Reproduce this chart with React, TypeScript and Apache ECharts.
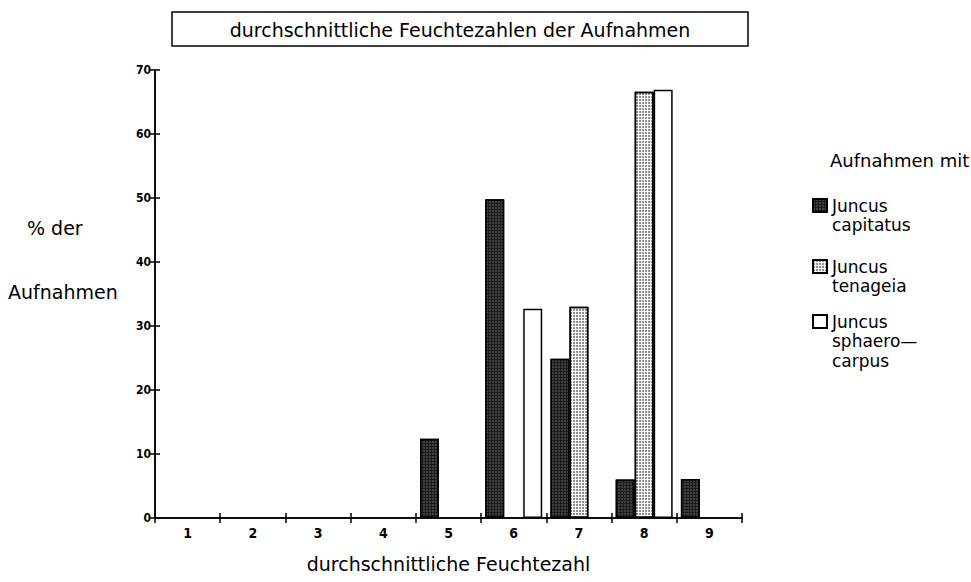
import React, { useEffect, useRef } from "react";
import * as echarts from "echarts";

const categories = ["1", "2", "3", "4", "5", "6", "7", "8", "9"];
const seriesNames = ["Juncus capitatus", "Juncus tenageia", "Juncus sphaerocarpus"];
const capitatus = [null, null, null, null, 12.4, 49.8, 24.9, 6.0, 6.1];
const tenageia = [null, null, null, null, null, null, 33.0, 66.6, null];
const sphaerocarpus = [null, null, null, null, null, 32.7, null, 66.9, null];
const yTicks = { min: 0, max: 70, interval: 10 };

const TXT = "DejaVu Sans";
const NUM = "DejaVu Sans Condensed";

export default function App() {
  const ref = useRef<HTMLDivElement>(null);
  useEffect(() => {
    if (!ref.current) return;
    const chart = echarts.init(ref.current, null, { renderer: "svg" });
    const darkStyle = {
      color: "#1c1c1c",
      borderColor: "#000",
      borderWidth: 1.5,
      decal: {
        symbol: "rect",
        symbolSize: 0.6,
        color: "rgba(255,255,255,0.55)",
        dashArrayX: [2, 1],
        dashArrayY: [2, 1],
        rotation: 0,
      },
    };
    const lightStyle = {
      color: "#ffffff",
      borderColor: "#000",
      borderWidth: 1.5,
      decal: {
        symbol: "circle",
        symbolSize: 0.9,
        color: "rgba(0,0,0,0.6)",
        dashArrayX: [2, 1],
        dashArrayY: [2, 1],
        rotation: 0,
      },
    };
    const whiteStyle = { color: "#ffffff", borderColor: "#000", borderWidth: 1.5 };
    const legendBase = {
      orient: "vertical",
      selectedMode: false,
      icon: "rect",
      itemWidth: 14,
      itemHeight: 13,
      padding: 0,
      textStyle: { fontFamily: TXT, fontSize: 17, color: "#000" },
      formatter: () => "Juncus",
    };
    const catAxisBase = {
      type: "category",
      data: categories,
      boundaryGap: true,
      axisLine: { show: true, lineStyle: { color: "#000", width: 1.5 } },
    };
    const valAxisBase = {
      type: "value",
      min: yTicks.min,
      max: yTicks.max,
      interval: yTicks.interval,
      splitLine: { show: false },
      axisLine: { show: true, lineStyle: { color: "#000", width: 1.5 } },
    };
    const sideText = (text: string, x: number, y: number, size: number) => ({
      type: "text",
      x,
      y,
      style: { text, fontFamily: TXT, fontSize: size, fill: "#000", verticalAlign: "middle" },
    });
    chart.setOption({
      animation: false,
      backgroundColor: "#fff",
      grid: { left: 155, right: 229, top: 70, bottom: 64 },
      legend: [
        { ...legendBase, data: [seriesNames[0]], left: 812, top: 197 },
        { ...legendBase, data: [seriesNames[1]], left: 812, top: 258 },
        { ...legendBase, data: [seriesNames[2]], left: 812, top: 313 },
      ],
      xAxis: [
        {
          ...catAxisBase,
          axisTick: { show: true, inside: false, length: 5, lineStyle: { color: "#000", width: 1.5 } },
          axisLabel: {
            fontFamily: NUM,
            fontWeight: "bold",
            fontSize: 14,
            color: "#000",
            margin: 8,
          },
          name: "durchschnittliche Feuchtezahl",
          nameLocation: "middle",
          nameGap: 36,
          nameTextStyle: { fontFamily: TXT, fontSize: 19, color: "#000" },
        },
        {
          ...catAxisBase,
          position: "bottom",
          axisTick: { show: true, inside: true, length: 5, lineStyle: { color: "#000", width: 1.5 } },
          axisLabel: { show: false },
        },
      ],
      yAxis: [
        {
          ...valAxisBase,
          axisTick: { show: true, inside: false, length: 5, lineStyle: { color: "#000", width: 1.5 } },
          axisLabel: {
            fontFamily: NUM,
            fontWeight: "bold",
            fontSize: 12,
            color: "#000",
            margin: 4,
          },
        },
        {
          ...valAxisBase,
          position: "left",
          axisTick: { show: true, inside: true, length: 5, lineStyle: { color: "#000", width: 1.5 } },
          axisLabel: { show: false },
        },
      ],
      series: [
        { name: seriesNames[0], type: "bar", data: capitatus, barWidth: 19, barGap: "0%", itemStyle: darkStyle },
        { name: seriesNames[1], type: "bar", data: tenageia, barWidth: 19, barGap: "0%", itemStyle: lightStyle },
        { name: seriesNames[2], type: "bar", data: sphaerocarpus, barWidth: 19, barGap: "0%", itemStyle: whiteStyle },
      ],
      graphic: [
        {
          type: "rect",
          shape: { x: 172, y: 12, width: 576, height: 34 },
          style: { fill: "#fff", stroke: "#000", lineWidth: 1.5 },
        },
        {
          type: "text",
          x: 460,
          y: 30,
          style: {
            text: "durchschnittliche Feuchtezahlen der Aufnahmen",
            fontFamily: TXT,
            fontSize: 19,
            fill: "#000",
            align: "center",
            verticalAlign: "middle",
          },
        },
        sideText("% der", 27, 228, 19),
        sideText("Aufnahmen", 8, 292, 19),
        sideText("Aufnahmen mit", 830, 160, 18),
        sideText("capitatus", 832, 225, 17),
        sideText("tenageia", 832, 286, 17),
        sideText("sphaero\u2014", 832, 341, 17),
        sideText("carpus", 832, 361, 17),
      ],
    });
    return () => chart.dispose();
  }, []);
  return <div ref={ref} style={{ width: 971, height: 582, position: "absolute", left: 0, top: 0 }} />;
}
